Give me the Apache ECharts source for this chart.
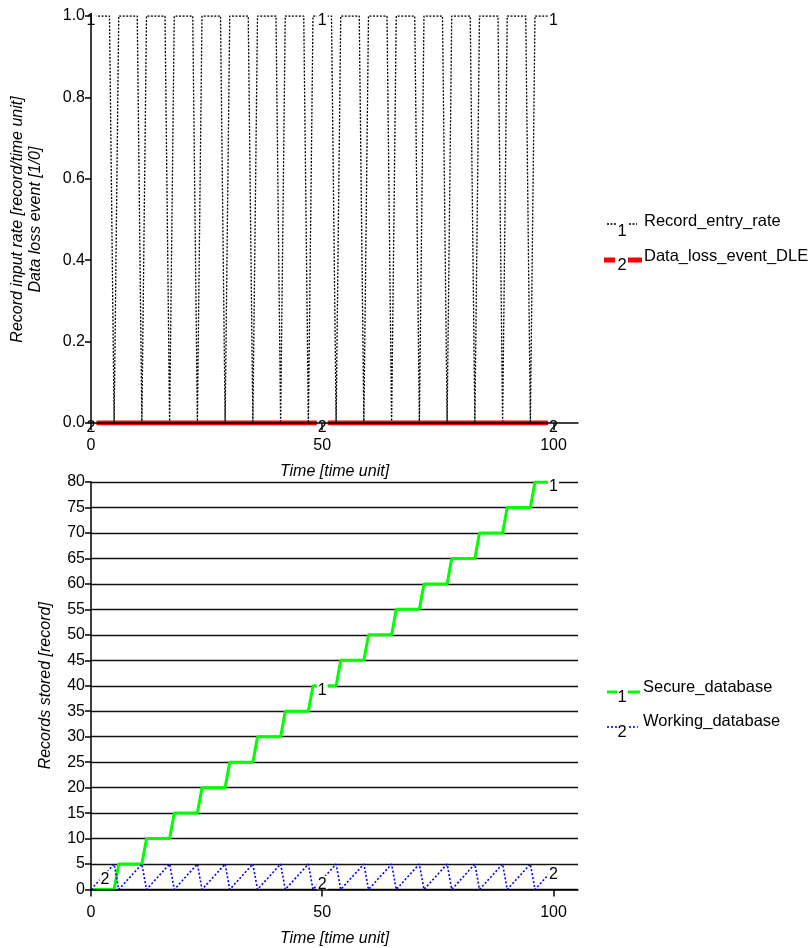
<!DOCTYPE html>
<html>
<head>
<meta charset="utf-8">
<script src="https://cdn.jsdelivr.net/npm/echarts@6/dist/echarts.min.js"></script>
<style>
  html, body { margin: 0; padding: 0; background: #fff; }
  #chart { width: 808px; height: 948px; }
</style>
</head>
<body>
<div id="chart"></div>
<script>
// Simulation output, one value per time step (t = 0 .. 100)
const TIME_STEP = 1;

const RECORD_ENTRY_RATE = [
  1, 1, 1, 1, 1, 0, 1, 1, 1, 1,
  1, 0, 1, 1, 1, 1, 1, 0, 1, 1,
  1, 1, 1, 0, 1, 1, 1, 1, 1, 0,
  1, 1, 1, 1, 1, 0, 1, 1, 1, 1,
  1, 0, 1, 1, 1, 1, 1, 0, 1, 1,
  1, 1, 1, 0, 1, 1, 1, 1, 1, 0,
  1, 1, 1, 1, 1, 0, 1, 1, 1, 1,
  1, 0, 1, 1, 1, 1, 1, 0, 1, 1,
  1, 1, 1, 0, 1, 1, 1, 1, 1, 0,
  1, 1, 1, 1, 1, 0, 1, 1, 1, 1,
  1
];

const DATA_LOSS_EVENT_DLE = [
  0, 0, 0, 0, 0, 0, 0, 0, 0, 0,
  0, 0, 0, 0, 0, 0, 0, 0, 0, 0,
  0, 0, 0, 0, 0, 0, 0, 0, 0, 0,
  0, 0, 0, 0, 0, 0, 0, 0, 0, 0,
  0, 0, 0, 0, 0, 0, 0, 0, 0, 0,
  0, 0, 0, 0, 0, 0, 0, 0, 0, 0,
  0, 0, 0, 0, 0, 0, 0, 0, 0, 0,
  0, 0, 0, 0, 0, 0, 0, 0, 0, 0,
  0, 0, 0, 0, 0, 0, 0, 0, 0, 0,
  0, 0, 0, 0, 0, 0, 0, 0, 0, 0,
  0
];

const SECURE_DATABASE = [
   0,  0,  0,  0,  0,  0,  5,  5,  5,  5,
   5,  5, 10, 10, 10, 10, 10, 10, 15, 15,
  15, 15, 15, 15, 20, 20, 20, 20, 20, 20,
  25, 25, 25, 25, 25, 25, 30, 30, 30, 30,
  30, 30, 35, 35, 35, 35, 35, 35, 40, 40,
  40, 40, 40, 40, 45, 45, 45, 45, 45, 45,
  50, 50, 50, 50, 50, 50, 55, 55, 55, 55,
  55, 55, 60, 60, 60, 60, 60, 60, 65, 65,
  65, 65, 65, 65, 70, 70, 70, 70, 70, 70,
  75, 75, 75, 75, 75, 75, 80, 80, 80, 80,
  80
];

const WORKING_DATABASE = [
  0, 1, 2, 3, 4, 5, 0, 1, 2, 3,
  4, 5, 0, 1, 2, 3, 4, 5, 0, 1,
  2, 3, 4, 5, 0, 1, 2, 3, 4, 5,
  0, 1, 2, 3, 4, 5, 0, 1, 2, 3,
  4, 5, 0, 1, 2, 3, 4, 5, 0, 1,
  2, 3, 4, 5, 0, 1, 2, 3, 4, 5,
  0, 1, 2, 3, 4, 5, 0, 1, 2, 3,
  4, 5, 0, 1, 2, 3, 4, 5, 0, 1,
  2, 3, 4, 5, 0, 1, 2, 3, 4, 5,
  0, 1, 2, 3, 4, 5, 0, 1, 2, 3,
  4
];

// Axis ticks
const X_TICKS = [0, 50, 100];
const X_MAX = 105.3;
const RATE_AXIS = { min: 0, max: 1, interval: 0.2 };
const STORE_AXIS = { min: 0, max: 80, interval: 5 };

// Times at which the series numbers are printed on the curves
const RATE_MARKS = [0, 50, 100];
const DLE_MARKS = [0, 50, 100];
const SECURE_MARKS = [50, 100];
const WORKING_MARKS = [3, 50, 100];

const FONT = '"Liberation Sans", Arial, Helvetica, sans-serif';
const LEGEND_FONT = '16.5px ' + FONT;

function toPairs(values) {
  return values.map((v, i) => [i * TIME_STEP, v]);
}
function markPairs(values, times) {
  return times.map(t => [t, values[Math.round(t / TIME_STEP)]]);
}

function curve(name, values, xi, yi, lineStyle, z) {
  return {
    name, type: 'line', xAxisIndex: xi, yAxisIndex: yi,
    data: toPairs(values), showSymbol: false, symbol: 'none',
    lineStyle, z, animation: false, silent: true
  };
}

// Series numbers printed on the curves, on a white box
function numberMarks(values, times, text, xi, yi) {
  return {
    type: 'scatter', xAxisIndex: xi, yAxisIndex: yi,
    data: markPairs(values, times),
    symbolSize: 1, itemStyle: { color: 'rgba(0,0,0,0)', opacity: 1 },
    z: 20, silent: true, animation: false,
    label: {
      show: true, position: 'inside', offset: [0, 5], opacity: 1,
      formatter: text, color: '#000', fontSize: 16, fontFamily: FONT,
      textBorderWidth: 0, textBorderColor: 'transparent',
      backgroundColor: '#fff', padding: [0, 1], lineHeight: 17
    }
  };
}

function timeAxis(gi) {
  return {
    type: 'value', gridIndex: gi, min: 0, max: X_MAX, interval: 50, z: 25,
    axisLine: { show: true, onZero: false, lineStyle: { color: '#000', width: 1.5 } },
    axisTick: { show: true, length: 7, customValues: X_TICKS, lineStyle: { color: '#000', width: 1.5 } },
    axisLabel: { customValues: X_TICKS, margin: 15, color: '#000', fontSize: 16, fontFamily: FONT },
    splitLine: { show: false },
    name: 'Time [time unit]', nameLocation: 'middle', nameGap: 41,
    nameTextStyle: { fontStyle: 'italic', fontSize: 16, fontFamily: FONT, color: '#000' }
  };
}

const axisText = { color: '#000', fontSize: 16, fontFamily: FONT };

const chart = echarts.init(document.getElementById('chart'), null, { renderer: 'canvas' });

chart.setOption({
  backgroundColor: '#fff',
  animation: false,
  grid: [
    { left: 91, right: 230, top: 16, height: 407, containLabel: false, outerBoundsMode: 'none' },
    { left: 91, right: 230, top: 482, height: 407.5, containLabel: false, outerBoundsMode: 'none' }
  ],
  xAxis: [timeAxis(0), timeAxis(1)],
  yAxis: [
    {
      type: 'value', gridIndex: 0, min: RATE_AXIS.min, max: RATE_AXIS.max, interval: RATE_AXIS.interval, z: 25,
      axisLine: { show: true, lineStyle: { color: '#000', width: 1.5 } },
      axisTick: { show: true, length: 6, lineStyle: { color: '#000', width: 1.5 } },
      axisLabel: Object.assign({ margin: 6, formatter: v => v.toFixed(1) }, axisText),
      splitLine: { show: false },
      name: 'Record input rate [record/time unit]\nData loss event [1/0]',
      nameLocation: 'middle', nameGap: 46,
      nameTextStyle: { fontStyle: 'italic', fontSize: 16, lineHeight: 18, fontFamily: FONT, color: '#000' }
    },
    {
      type: 'value', gridIndex: 1, min: STORE_AXIS.min, max: STORE_AXIS.max, interval: STORE_AXIS.interval,
      axisLine: { show: true, lineStyle: { color: '#000', width: 1.5 } },
      axisTick: { show: true, length: 6, lineStyle: { color: '#000', width: 1.5 } },
      axisLabel: Object.assign({ margin: 6 }, axisText),
      splitLine: { show: true, lineStyle: { color: '#111', width: 1.3 } },
      name: 'Records stored [record]',
      nameLocation: 'middle', nameGap: 37,
      nameTextStyle: { fontStyle: 'italic', fontSize: 16, fontFamily: FONT, color: '#000' }
    }
  ],
  series: [
    curve('Data_loss_event_DLE', DATA_LOSS_EVENT_DLE, 0, 0, { color: '#ff0000', width: 5 }, 2),
    curve('Record_entry_rate', RECORD_ENTRY_RATE, 0, 0, { color: '#000', width: 1.3, type: [2, 1.5] }, 3),
    curve('Secure_database', SECURE_DATABASE, 1, 1, { color: '#00ff00', width: 3 }, 3),
    curve('Working_database', WORKING_DATABASE, 1, 1, { color: '#0000ff', width: 1.6, type: [2, 2] }, 4),
    numberMarks(RECORD_ENTRY_RATE, RATE_MARKS, '1', 0, 0),
    numberMarks(DATA_LOSS_EVENT_DLE, DLE_MARKS, '2', 0, 0),
    numberMarks(SECURE_DATABASE, SECURE_MARKS, '1', 1, 1),
    numberMarks(WORKING_DATABASE, WORKING_MARKS, '2', 1, 1)
  ],
  graphic: [
    // legend of the upper panel
    { type: 'line', shape: { x1: 607, y1: 224, x2: 617, y2: 224 }, style: { stroke: '#000', lineWidth: 1.3, lineDash: [2, 1.5] } },
    { type: 'line', shape: { x1: 629, y1: 224, x2: 637, y2: 224 }, style: { stroke: '#000', lineWidth: 1.3, lineDash: [2, 1.5] } },
    { type: 'text', x: 622, y: 231, style: { text: '1', font: LEGEND_FONT, fill: '#000', align: 'center', verticalAlign: 'middle' } },
    { type: 'text', x: 644, y: 221, style: { text: 'Record_entry_rate', font: LEGEND_FONT, fill: '#000', align: 'left', verticalAlign: 'middle' } },
    { type: 'line', shape: { x1: 604, y1: 260, x2: 615, y2: 260 }, style: { stroke: '#ff0000', lineWidth: 5 } },
    { type: 'line', shape: { x1: 628, y1: 260, x2: 642, y2: 260 }, style: { stroke: '#ff0000', lineWidth: 5 } },
    { type: 'text', x: 622, y: 265, style: { text: '2', font: LEGEND_FONT, fill: '#000', align: 'center', verticalAlign: 'middle' } },
    { type: 'text', x: 644, y: 256, style: { text: 'Data_loss_event_DLE', font: LEGEND_FONT, fill: '#000', align: 'left', verticalAlign: 'middle' } },
    // legend of the lower panel
    { type: 'line', shape: { x1: 607, y1: 692, x2: 617, y2: 692 }, style: { stroke: '#00ff00', lineWidth: 3 } },
    { type: 'line', shape: { x1: 628, y1: 692, x2: 640, y2: 692 }, style: { stroke: '#00ff00', lineWidth: 3 } },
    { type: 'text', x: 622, y: 697, style: { text: '1', font: LEGEND_FONT, fill: '#000', align: 'center', verticalAlign: 'middle' } },
    { type: 'text', x: 643, y: 687, style: { text: 'Secure_database', font: LEGEND_FONT, fill: '#000', align: 'left', verticalAlign: 'middle' } },
    { type: 'line', shape: { x1: 607, y1: 727, x2: 617, y2: 727 }, style: { stroke: '#0000ff', lineWidth: 1.6, lineDash: [2, 2] } },
    { type: 'line', shape: { x1: 629, y1: 727, x2: 638, y2: 727 }, style: { stroke: '#0000ff', lineWidth: 1.6, lineDash: [2, 2] } },
    { type: 'text', x: 622, y: 732, style: { text: '2', font: LEGEND_FONT, fill: '#000', align: 'center', verticalAlign: 'middle' } },
    { type: 'text', x: 643, y: 721, style: { text: 'Working_database', font: LEGEND_FONT, fill: '#000', align: 'left', verticalAlign: 'middle' } }
  ]
});
</script>
</body>
</html>
